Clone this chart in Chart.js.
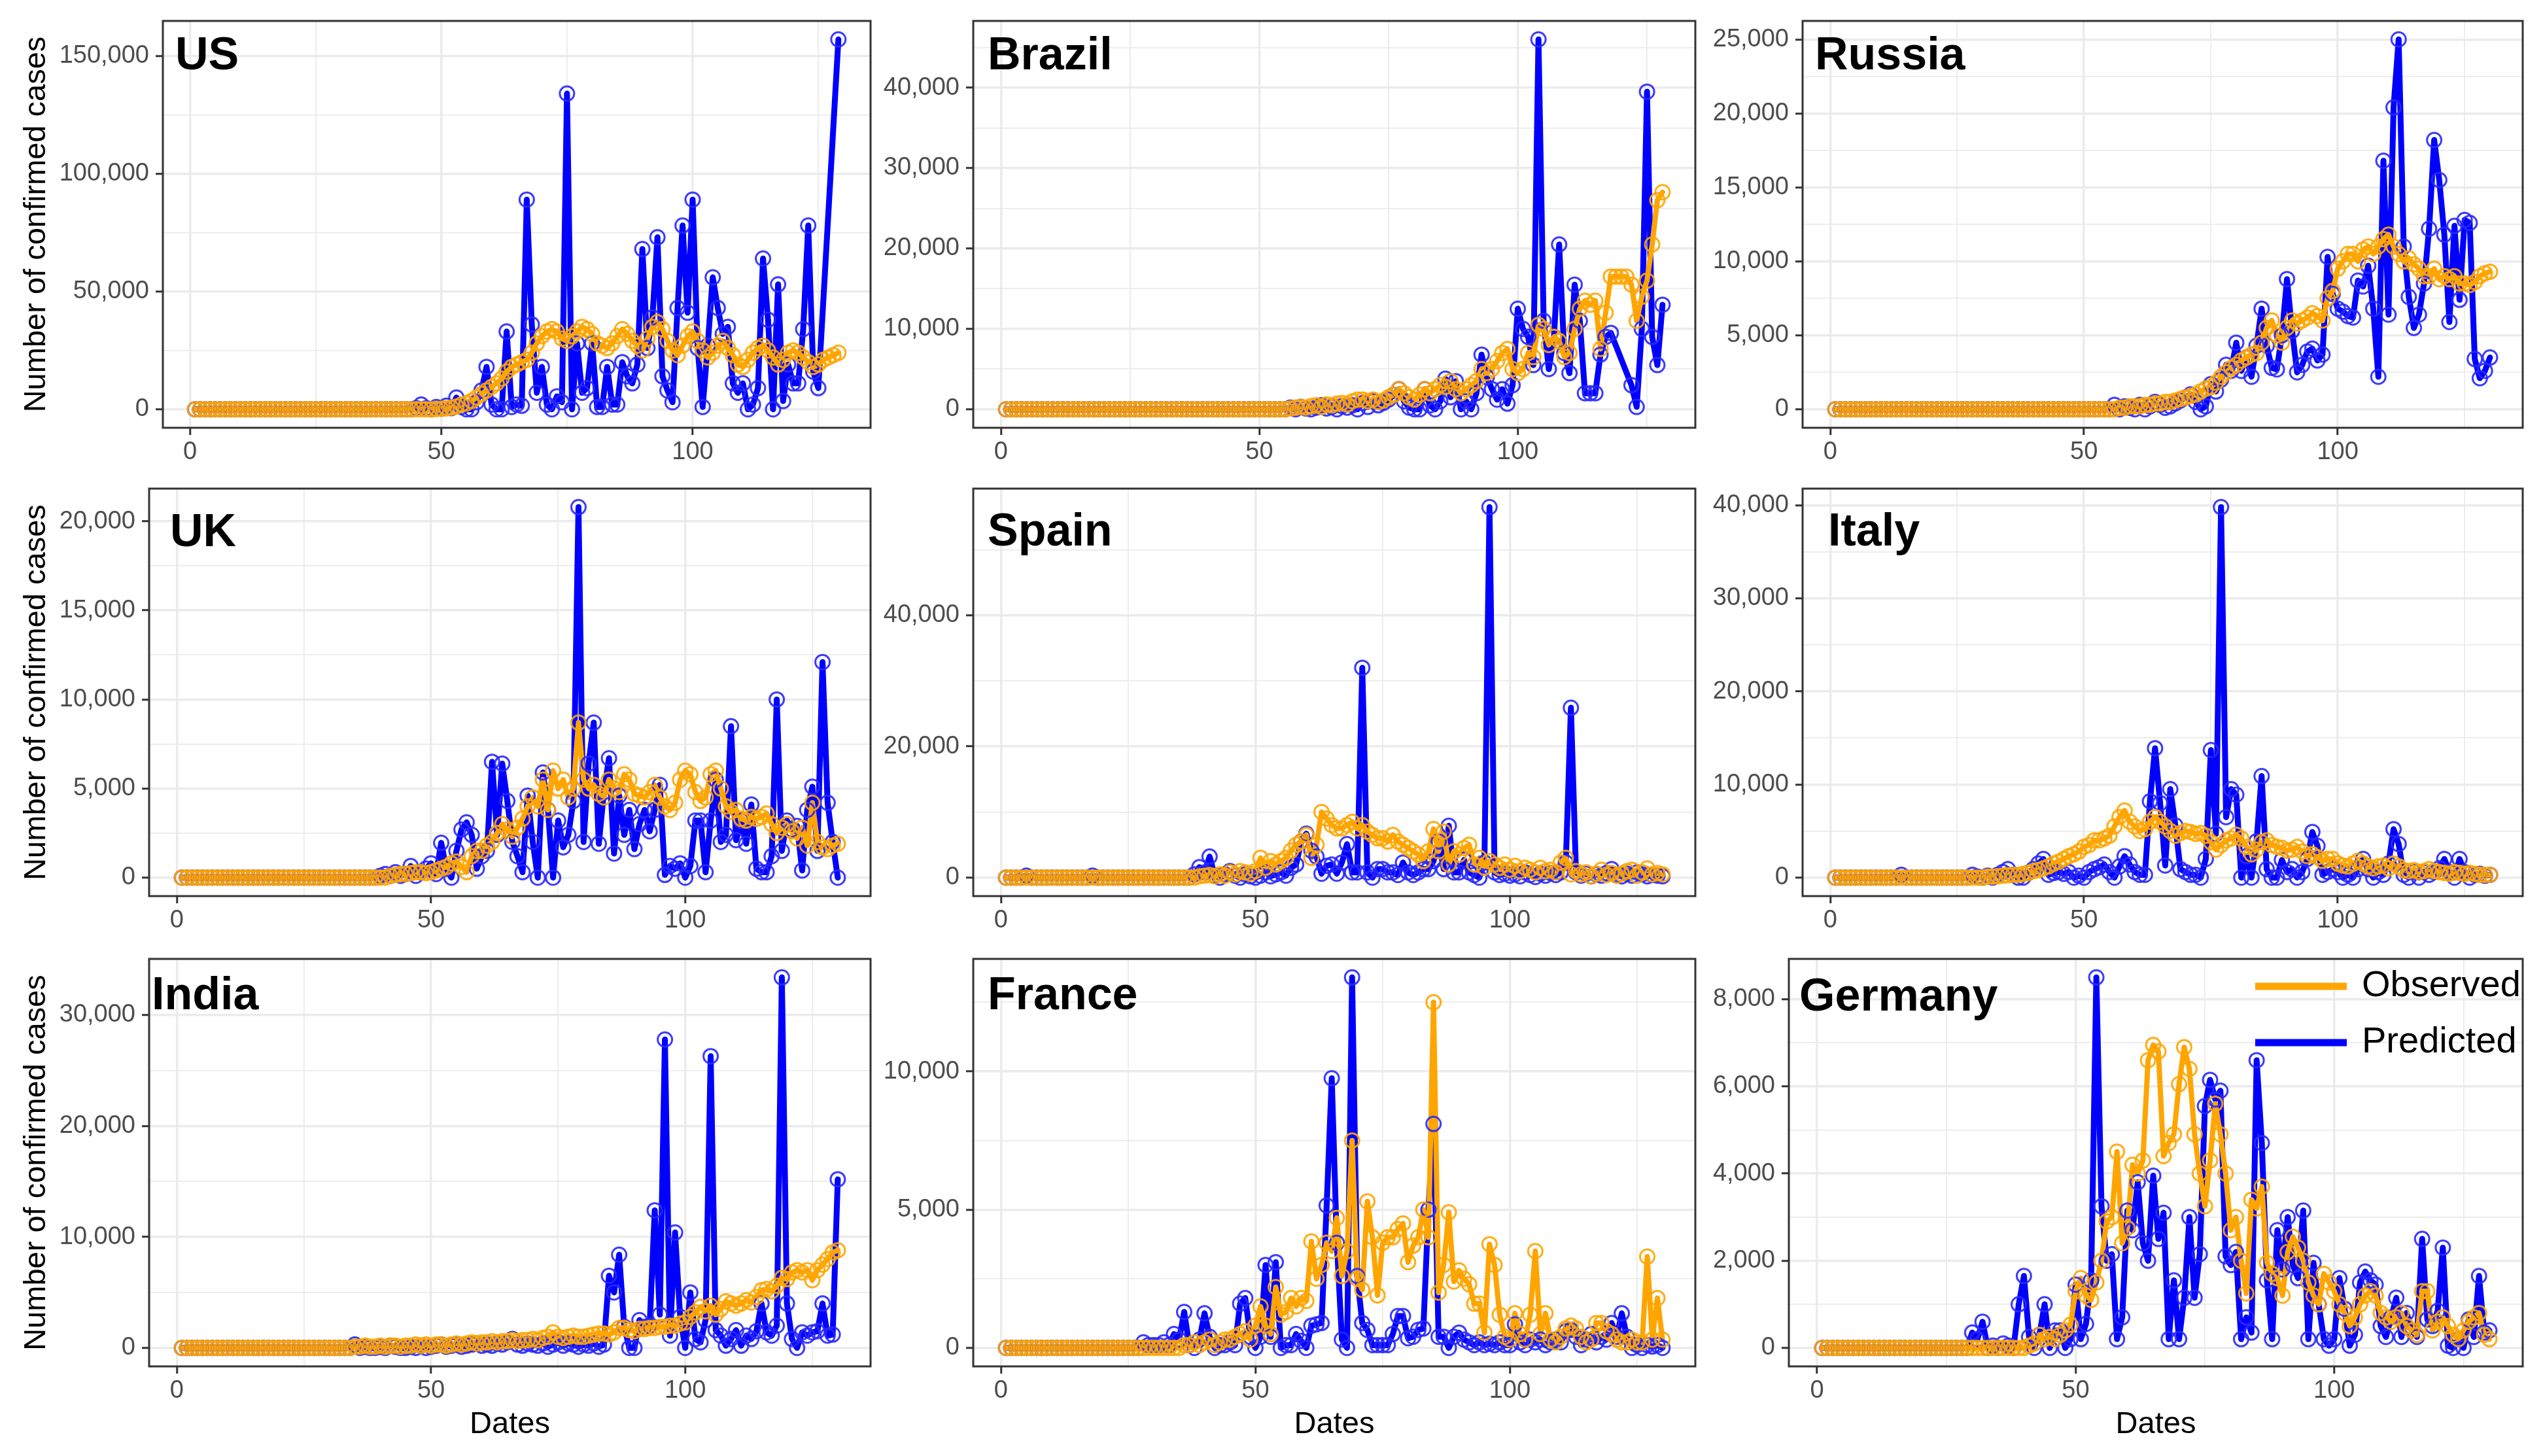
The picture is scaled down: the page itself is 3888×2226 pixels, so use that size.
<!DOCTYPE html>
<html>
<head>
<meta charset="utf-8">
<script src="https://cdn.jsdelivr.net/npm/chart.js@4.4.1/dist/chart.umd.min.js"></script>
<style>
  html, body { margin: 0; padding: 0; background: #fff; }
  body { width: 3888px; height: 2226px; position: relative; overflow: hidden; }
  canvas { position: absolute; }
</style>
</head>
<body>
<script>
// daily new confirmed cases, observed vs predicted (day 1 .. n)
const usObserved = [
  0,0,0,0,0,0,0,0,0,0, 0,0,0,0,0,0,0,0,0,0, 0,0,0,0,0,0,0,0,0,0, 0,0,0,0,0,0,0,0,0,0,
  0,0,0,0,0,0,0,0,100,200,
  400,700,1200,2000,2500,3500,5000,6500,8000,9500,
  11000,13000,16000,18000,19000,20000,21000,24000,28000,31000,
  33000,34000,33000,30000,29000,31000,33000,35000,34000,32000,
  28000,27000,26000,28000,31000,34000,32000,29000,27000,25000,
  30000,35000,37000,34000,29000,25000,23000,27000,31000,33000,
  29000,25000,22000,24000,27000,29000,26000,23000,19000,18000,
  21000,24000,26000,27000,25000,22000,19000,21000,24000,25000,
  24000,22000,20000,18000,19000,21000,22000,23000,24000
];
const usPredicted = [
  0,0,0,0,0,0,0,0,0,0, 0,0,0,0,0,0,0,0,0,0, 0,0,0,0,0,0,0,0,0,0, 0,0,0,0,0,0,0,0,0,0,
  0,0,0,0,500,2000,500,0,1000,300,
  1500,500,5000,1000,0,0,3000,8000,18000,2000,
  0,0,33000,1000,2000,1500,89000,36000,7000,18000,
  2000,0,5500,3000,134000,0,28000,7000,9000,28000,
  1000,1000,18000,2000,2000,20000,14000,11000,19000,68000,
  26000,39000,73000,14000,8000,3000,43000,78000,41000,89000,
  26000,1000,27000,56000,43000,32000,35000,11000,7000,11000,
  0,2000,9000,64000,38000,0,53000,3500,19000,11000,
  11000,34000,78000,16000,9000,null,null,null,157000
];
const brazilObserved = [
  0,0,0,0,0,0,0,0,0,0, 0,0,0,0,0,0,0,0,0,0, 0,0,0,0,0,0,0,0,0,0, 0,0,0,0,0,0,0,0,0,0, 0,0,0,0,0,0,0,0,0,0,
  0,0,0,0,0,100,200,300,200,400,
  500,300,600,500,700,800,600,1000,1200,1200,
  1000,1200,900,1100,1500,1800,2500,2000,1500,1200,
  1800,2500,2000,2500,3000,2800,3500,2500,2000,2500,
  3000,3500,5000,4500,5000,6000,7000,7500,5000,4500,
  5000,7000,6500,10500,10000,8000,9000,8500,6500,7000,
  10000,12500,13500,13000,13500,7500,12000,16500,16500,16500,
  16500,15500,11000,14000,16000,20500,26000,27000
];
const brazilPredicted = [
  0,0,0,0,0,0,0,0,0,0, 0,0,0,0,0,0,0,0,0,0, 0,0,0,0,0,0,0,0,0,0, 0,0,0,0,0,0,0,0,0,0, 0,0,0,0,0,0,0,0,0,0,
  0,0,0,0,0,200,0,300,100,0,
  200,500,100,300,0,400,200,500,0,800,
  300,1000,500,800,1200,1800,2500,1000,200,0,
  0,2500,500,0,1000,3800,1500,3500,0,1000,
  0,2000,6800,4000,2500,1200,2500,700,3000,12500,
  10000,9000,5500,46000,11000,5000,9000,20500,7000,4500,
  15500,11000,2000,2000,2000,6800,9000,9500,null,null,
  null,3000,300,10000,39500,9000,5500,13000
];
const russiaObserved = [
  0,0,0,0,0,0,0,0,0,0, 0,0,0,0,0,0,0,0,0,0, 0,0,0,0,0,0,0,0,0,0, 0,0,0,0,0,0,0,0,0,0, 0,0,0,0,0,0,0,0,0,0,
  0,0,0,0,0,0,100,100,200,200,
  200,300,300,400,400,500,500,600,700,800,
  900,1000,1200,1400,1500,1800,2200,2500,2800,3000,
  3300,3500,3700,3800,4500,5500,6000,5000,4500,5500,
  6000,5800,6000,6200,6500,6300,6000,7500,8000,9500,
  10000,10500,10500,10000,10800,11000,10500,11000,11500,11800,
  11000,10500,10000,10200,9800,9500,9000,9000,9500,8800,
  9000,8800,9000,8500,8500,8400,8600,9000,9200,9300
];
const russiaPredicted = [
  0,0,0,0,0,0,0,0,0,0, 0,0,0,0,0,0,0,0,0,0, 0,0,0,0,0,0,0,0,0,0, 0,0,0,0,0,0,0,0,0,0, 0,0,0,0,0,0,0,0,0,0,
  0,0,0,0,0,300,0,200,100,0,
  300,0,200,500,300,100,200,400,600,800,
  1000,500,0,200,1700,1200,2000,3000,2600,4500,
  2600,3500,2200,4300,6800,4300,2800,2700,5000,8800,
  5300,2500,3000,3900,4100,3300,3700,10300,7800,6800,
  6600,6300,6200,8700,8300,9700,6800,2200,16800,6400,
  20400,25000,11000,7600,5500,6400,8500,12200,18200,15500,
  11800,5900,12400,7400,12800,12600,3400,2100,2600,3500
];
const ukObserved = [
  0,0,0,0,0,0,0,0,0,0, 0,0,0,0,0,0,0,0,0,0, 0,0,0,0,0,0,0,0,0,0, 0,0,0,0,0,0,0,0,0,0,
  0,100,150,200,200,250,300,300,250,300,
  400,500,600,800,900,600,300,1200,1500,1500,
  1800,2000,2500,3000,2700,2300,2800,3300,4000,4500,
  4000,5500,3800,6000,5000,5500,4500,5000,8700,5500,
  5000,5200,4700,4500,5500,5000,4800,5800,5500,4700,
  4600,4500,4800,5200,4500,4000,3800,4200,5500,6000,
  5800,4800,4300,4500,5800,6000,5000,4000,3700,3800,
  3300,3200,3400,3300,3400,3600,3000,2500,2800,3000,
  2600,2200,2800,1800,4200,2000,1700,1600,1800,1900
];
const ukPredicted = [
  0,0,0,0,0,0,0,0,0,0, 0,0,0,0,0,0,0,0,0,0, 0,0,0,0,0,0,0,0,0,0,
  0,0,0,0,0,0,0,0,0,100,
  200,100,300,100,200,650,100,300,500,800,
  200,1950,500,0,1500,2700,3100,2400,500,1200,
  1500,6500,2400,6400,4300,2000,1200,300,4600,2000,
  0,5900,3800,0,3200,1700,2400,4300,20800,2000,
  6400,8700,1900,4800,6700,1350,4600,2400,3800,1600,
  3000,3800,2600,3800,5200,150,650,500,800,0,
  650,3200,3200,300,3200,5500,2000,2400,8500,2100,
  3200,1900,4100,500,300,300,1200,10000,1500,3200,
  2700,2900,400,3800,5100,1500,12100,4200,2000,0
];
const spainObserved = [
  0,0,0,0,0,0,0,0,0,0, 0,0,0,0,0,0,0,0,0,0, 0,0,0,0,0,0,0,0,0,0,
  0,0,0,0,0,0,0,0,200,300,
  400,200,500,300,800,500,1000,800,600,1000,
  3000,1500,2500,2000,2500,3000,4100,5000,5500,6500,
  3000,5000,10000,9000,8000,7500,7500,8000,8500,7500,
  8000,7000,6500,6000,6000,5500,6500,5500,5000,4500,
  4000,3500,2500,4000,7400,4000,7000,2000,4000,3500,
  4500,5000,2000,3000,1500,2500,2000,1500,2000,1200,
  1800,1000,1500,1200,800,1500,1000,1200,800,2300,
  3000,500,1000,500,800,200,600,1200,400,700,
  300,600,1000,1200,300,800,1400,500,700,500
];
const spainPredicted = [
  0,0,0,0,300,0,0,0,0,0,
  0,0,0,0,0,0,0,300,0,0,
  0,0,0,0,0,0,0,0,0,0,
  0,0,0,0,0,0,0,500,1600,800,
  3200,300,0,500,1000,300,0,500,200,0,
  300,800,200,500,800,300,1500,2000,5500,6700,
  4100,3200,600,1800,2000,600,2300,5100,800,800,
  32000,800,0,1300,1300,800,800,400,2300,800,
  400,800,1300,1300,2500,5500,1300,7900,800,800,
  2700,800,400,0,2300,56500,800,400,600,300,
  500,200,800,400,100,600,300,700,400,800,
  2300,25900,800,300,600,200,500,300,700,1300,
  400,200,600,300,800,500,200,400,300,200
];
const italyObserved = [
  0,0,0,0,0,0,0,0,0,0, 0,0,0,0,0,0,0,0,0,0, 0,0,0,0,0,0,0,0,0,0,
  100,100,150,200,250,300,300,400,500,700,
  800,1000,1200,1500,1700,2000,2300,2500,2800,3300,
  3500,4000,4000,4200,4500,5500,6500,7200,6000,5500,
  5000,5200,6000,6500,6000,5500,5000,4500,4800,5000,
  4900,4700,4800,4500,3800,3000,3500,4000,4200,4600,
  4200,3300,2500,3000,3800,4000,3500,3300,3200,2900,
  3000,3300,2800,2300,2500,2200,1800,2000,2000,1500,
  1300,1200,1500,1800,1500,1200,1000,1200,1300,1000,
  1500,1200,800,700,800,600,700,900,700,600,
  500,400,600,500,400,500,400,300,300,300
];
const italyPredicted = [
  0,0,0,0,0,0,0,0,0,0,
  0,0,0,300,0,0,0,0,0,0,
  0,0,0,0,0,0,0,300,100,0,
  200,0,300,600,900,300,0,0,500,900,
  1500,2000,300,500,600,400,600,0,200,0,
  600,900,1100,1400,600,0,1200,2300,1400,600,
  300,300,8200,13900,8000,1300,9500,5600,900,600,
  300,300,0,2000,13700,4700,39800,6500,9500,8900,
  0,2300,0,3900,10900,900,0,0,1900,600,
  900,0,600,2000,4900,3400,300,600,900,600,
  0,300,0,900,2000,900,0,600,300,1500,
  5200,3600,300,0,600,0,600,300,600,1000,
  2000,600,0,2000,600,0,300,400,200,300
];
const indiaObserved = [
  0,0,0,0,0,0,0,0,0,0, 0,0,0,0,0,0,0,0,0,0, 0,0,0,0,0,0,0,0,0,0,
  0,0,0,0,100,100,200,100,100,200,
  100,200,200,100,200,200,300,200,300,200,
  300,300,200,300,400,300,400,500,400,500,
  500,600,500,600,600,700,600,700,700,800,
  700,900,1000,1400,1000,900,1000,1100,1000,1000,
  1100,1200,1300,1300,1200,1400,1800,1800,1600,1500,
  1700,1700,1800,1800,1900,1900,2000,2000,2200,2300,
  2800,3200,3700,3300,3800,3000,3500,4200,4000,3800,
  4000,4300,4100,4600,5200,5300,5100,5600,6300,6200,
  6800,7000,6800,7000,6100,7000,7500,8000,8600,8800
];
const indiaPredicted = [
  0,0,0,0,0,0,0,0,0,0, 0,0,0,0,0,0,0,0,0,0, 0,0,0,0,0,0,0,0,0,0,
  0,0,0,0,300,0,100,0,0,100,
  0,200,100,0,0,100,0,200,0,100,
  200,300,100,200,300,100,200,300,400,200,
  300,200,400,300,500,800,300,200,400,300,
  200,400,100,300,500,200,400,300,100,300,
  200,400,100,300,6500,5000,8400,1900,0,0,
  2500,1900,2000,12400,3000,27800,1100,10400,2800,0,
  5000,800,500,2500,26300,1600,1100,200,800,1600,
  200,1100,800,1500,4000,1400,1100,2000,33400,4000,
  800,0,1400,1100,1400,1500,4000,1100,1200,15200
];
const franceObserved = [
  0,0,0,0,0,0,0,0,0,0, 0,0,0,0,0,0,0,0,0,0, 0,0,0,0,0,0,0,0,0,0,
  0,0,0,0,0,100,100,200,100,200,
  300,100,200,300,300,400,500,600,300,800,
  1500,800,500,2200,1200,1300,1800,1500,1800,1700,
  3850,2500,3000,3800,3500,4700,2600,3500,7500,2500,
  2100,5300,4000,1900,3800,4000,4000,4300,4500,3100,
  3700,4000,5000,4000,12500,2000,3000,4900,2400,2800,
  2500,2300,1600,1600,550,3750,3000,1200,400,300,
  1250,500,300,1200,3500,500,1250,300,200,400,
  700,800,700,400,200,300,900,900,600,500,
  300,200,200,300,200,200,3300,300,1800,300
];
const francePredicted = [
  0,0,0,0,0,0,0,0,0,0, 0,0,0,0,0,0,0,0,0,0,
  0,0,0,0,0,0,0,200,100,100,
  100,200,100,500,300,1300,100,0,300,1250,
  400,0,100,100,200,100,1600,1800,400,0,
  400,3000,400,3100,0,100,100,500,250,0,
  800,850,900,5150,9750,3800,300,0,13400,2600,
  900,650,100,100,100,100,500,1150,1150,350,
  400,650,700,5000,8100,400,400,0,400,550,
  300,200,100,200,100,150,100,200,100,100,
  850,200,100,300,200,300,100,200,300,200,
  600,650,400,100,300,500,200,400,300,900,
  400,1250,400,0,100,0,100,50,100,0
];
const germanyObserved = [
  0,0,0,0,0,0,0,0,0,0, 0,0,0,0,0,0,0,0,0,0, 0,0,0,0,0,0,0,0,0,0, 0,0,0,0,0,0,0,0,0,0,
  50,100,300,200,250,200,300,400,530,1300,
  1600,1200,1100,1500,2000,2900,3000,4500,2400,2750,
  4200,4000,4300,6600,6950,6800,4400,4700,4900,6050,
  6900,6400,4900,4000,3250,4300,5600,4900,4000,2700,
  3000,2000,1250,3400,3200,3700,1950,1700,1600,1200,
  2200,2550,2300,2000,1500,1200,1000,1700,1500,1300,
  1000,800,500,700,1000,1200,1300,1200,800,700,
  600,700,800,500,400,300,1300,1300,400,600,
  700,500,300,200,400,600,700,800,300,200
];
const germanyPredicted = [
  0,0,0,0,0,0,0,0,0,0, 0,0,0,0,0,0,0,0,0,0,
  0,0,0,0,0,0,0,0,0,350,
  200,600,0,50,0,100,50,0,1000,1650,
  250,0,300,1000,0,400,400,0,200,1450,
  200,550,1550,8500,3250,2000,2150,200,700,3150,
  2700,3800,2400,2000,3950,2500,3100,200,1550,200,
  1150,3000,1150,2150,5550,6150,5700,5900,2100,1900,
  2200,200,700,350,6600,4700,1550,200,2700,1800,
  3000,1900,1600,3150,200,1950,1000,200,50,200,
  1600,900,50,300,1500,1750,1550,1450,500,250,
  700,1150,250,800,400,250,2500,650,500,850,
  2300,50,0,200,0,650,250,1650,350,400
];

// axis breaks (labelled ticks)
const dateBreaks = [0, 50, 100];
const usBreaks = [0, 50000, 100000, 150000];
const brazilBreaks = [0, 10000, 20000, 30000, 40000];
const russiaBreaks = [0, 5000, 10000, 15000, 20000, 25000];
const ukBreaks = [0, 5000, 10000, 15000, 20000];
const spainBreaks = [0, 20000, 40000];
const italyBreaks = [0, 10000, 20000, 30000, 40000];
const indiaBreaks = [0, 10000, 20000, 30000];
const franceBreaks = [0, 5000, 10000];
const germanyBreaks = [0, 2000, 4000, 6000, 8000];
const seriesNames = ['Observed', 'Predicted'];

const FONT = '"Liberation Sans", Arial, Helvetica, sans-serif';
const ORANGE = '#ffa500';
const BLUE = '#0000ff';

// plot box = [left, top, right, bottom] of the panel border
const panels = [
  { title: 'US', obs: usObserved, pred: usPredicted, breaks: usBreaks, box: [249, 32, 1331, 654], canvasLeft: 0, dx: 19, dy: 55, yTitle: true },
  { title: 'Brazil', obs: brazilObserved, pred: brazilPredicted, breaks: brazilBreaks, box: [1488, 32, 2592, 654], canvasLeft: 1345, dx: 22, dy: 55 },
  { title: 'Russia', obs: russiaObserved, pred: russiaPredicted, breaks: russiaBreaks, box: [2756, 32, 3857, 654], canvasLeft: 2600, dx: 19, dy: 55 },
  { title: 'UK', obs: ukObserved, pred: ukPredicted, breaks: ukBreaks, box: [228, 747, 1331, 1370], canvasLeft: 0, dx: 32, dy: 69, yTitle: true },
  { title: 'Spain', obs: spainObserved, pred: spainPredicted, breaks: spainBreaks, box: [1488, 747, 2592, 1370], canvasLeft: 1345, dx: 22, dy: 68 },
  { title: 'Italy', obs: italyObserved, pred: italyPredicted, breaks: italyBreaks, box: [2756, 747, 3857, 1370], canvasLeft: 2600, dx: 39, dy: 68 },
  { title: 'India', obs: indiaObserved, pred: indiaPredicted, breaks: indiaBreaks, box: [228, 1466, 1331, 2089], canvasLeft: 0, dx: 4, dy: 58, yTitle: true, xTitle: true },
  { title: 'France', obs: franceObserved, pred: francePredicted, breaks: franceBreaks, box: [1488, 1466, 2592, 2089], canvasLeft: 1345, dx: 22, dy: 58, xTitle: true },
  { title: 'Germany', obs: germanyObserved, pred: germanyPredicted, breaks: germanyBreaks, box: [2735, 1466, 3857, 2089], canvasLeft: 2600, dx: 16, dy: 60, xTitle: true, legend: true }
];

// ggplot-like minor breaks: halfway between the labelled ones
const withMinor = (breaks, lo, hi) => {
  const step = breaks[1] - breaks[0];
  const out = [];
  for (const b of breaks) out.push(b - step / 2, b);
  out.push(breaks[breaks.length - 1] + step / 2);
  return out.filter(v => v >= lo && v <= hi);
};

const panelDecor = {
  id: 'panelDecor',
  afterDraw(chart, args, opts) {
    const { ctx, chartArea: a } = chart;
    ctx.save();
    ctx.strokeStyle = '#333333';
    ctx.lineWidth = 3;
    ctx.strokeRect(a.left, a.top, a.right - a.left, a.bottom - a.top);
    ctx.fillStyle = '#000';
    ctx.textBaseline = 'middle';
    ctx.textAlign = 'left';
    ctx.font = 'bold 70px ' + FONT;
    ctx.fillText(opts.title, a.left + opts.dx, a.top + opts.dy);
    if (opts.legend) {
      ctx.font = '56px ' + FONT;
      [ORANGE, BLUE].forEach((c, i) => {
        const y = a.top + 42 + i * 86;
        ctx.strokeStyle = c;
        ctx.lineWidth = 11;
        ctx.beginPath();
        ctx.moveTo(a.right - 409, y);
        ctx.lineTo(a.right - 269, y);
        ctx.stroke();
        ctx.fillText(seriesNames[i], a.right - 246, y);
      });
    }
    ctx.restore();
  }
};

const PAD_TOP = 40, PAD_RIGHT = 14;

panels.forEach(p => {
  const [L, T, R, B] = p.box;
  const xAxisH = p.xTitle ? 2226 - B : 80;
  const cv = document.createElement('canvas');
  cv.width = R + PAD_RIGHT - p.canvasLeft;
  cv.height = (B - T) + PAD_TOP + xAxisH;
  cv.style.left = p.canvasLeft + 'px';
  cv.style.top = (T - PAD_TOP) + 'px';
  document.body.appendChild(cv);

  const n = p.obs.length;
  const xMin = 1 - 0.05 * (n - 1), xMax = n + 0.05 * (n - 1);
  const top = Math.max(...p.obs, ...p.pred.filter(v => v !== null));
  const yMin = -0.05 * top, yMax = 1.05 * top;
  const xTicks = withMinor(dateBreaks, xMin, xMax);
  const yTicks = withMinor(p.breaks, yMin, yMax);

  const pts = arr => arr.map((v, i) => ({ x: i + 1, y: v }));
  const isMajor = (list, v) => list.includes(v);

  new Chart(cv, {
    type: 'line',
    data: {
      datasets: [
        { label: 'Observed points', data: pts(p.obs), showLine: false, pointRadius: 11, pointBorderWidth: 3,
          pointBorderColor: 'rgba(255,165,0,0.9)', pointBackgroundColor: 'rgba(0,0,0,0)' },
        { label: 'Predicted points', data: pts(p.pred), showLine: false, pointRadius: 11, pointBorderWidth: 3,
          pointBorderColor: 'rgba(40,40,255,0.9)', pointBackgroundColor: 'rgba(0,0,0,0)' },
        { label: 'Observed', data: pts(p.obs), borderColor: ORANGE, borderWidth: 8, pointRadius: 0, tension: 0,
          borderJoinStyle: 'round', borderCapStyle: 'round' },
        { label: 'Predicted', data: pts(p.pred), borderColor: BLUE, borderWidth: 9, pointRadius: 0, tension: 0,
          borderJoinStyle: 'round', borderCapStyle: 'round', spanGaps: true }
      ]
    },
    options: {
      responsive: false,
      animation: false,
      devicePixelRatio: 1,
      layout: { padding: { top: PAD_TOP, right: PAD_RIGHT, left: 0, bottom: 0 } },
      plugins: {
        legend: { display: false },
        tooltip: { enabled: false },
        panelDecor: { title: p.title, dx: p.dx, dy: p.dy, legend: !!p.legend }
      },
      scales: {
        x: {
          type: 'linear', min: xMin, max: xMax,
          afterBuildTicks: s => { s.ticks = xTicks.map(v => ({ value: v })); },
          afterFit: s => { s.height = xAxisH; },
          ticks: {
            autoSkip: false, maxRotation: 0, padding: 4, color: '#4d4d4d',
            font: { family: FONT, size: 38 },
            callback: v => isMajor(dateBreaks, v) ? String(v) : ''
          },
          grid: {
            color: '#ebebeb', tickLength: 11, tickWidth: 3,
            lineWidth: c => isMajor(dateBreaks, c.tick.value) ? 3.5 : 1.8,
            tickColor: c => isMajor(dateBreaks, c.tick.value) ? '#333333' : 'rgba(0,0,0,0)'
          },
          border: { display: false },
          title: { display: !!p.xTitle, text: 'Dates', color: '#000', font: { family: FONT, size: 47 }, padding: { top: 0, bottom: 20 } }
        },
        y: {
          type: 'linear', min: yMin, max: yMax,
          afterBuildTicks: s => { s.ticks = yTicks.map(v => ({ value: v })); },
          afterFit: s => { s.width = L - p.canvasLeft; },
          ticks: {
            autoSkip: false, padding: 10, color: '#4d4d4d',
            font: { family: FONT, size: 38 },
            callback: v => isMajor(p.breaks, v) ? v.toLocaleString('en-US') : ''
          },
          grid: {
            color: '#ebebeb', tickLength: 11, tickWidth: 3,
            lineWidth: c => isMajor(p.breaks, c.tick.value) ? 3.5 : 1.8,
            tickColor: c => isMajor(p.breaks, c.tick.value) ? '#333333' : 'rgba(0,0,0,0)'
          },
          border: { display: false },
          title: { display: !!p.yTitle, text: 'Number of confirmed cases', color: '#000', font: { family: FONT, size: 47 }, padding: { top: 28, bottom: 0 } }
        }
      }
    },
    plugins: [panelDecor]
  });
});
</script>
</body>
</html>
